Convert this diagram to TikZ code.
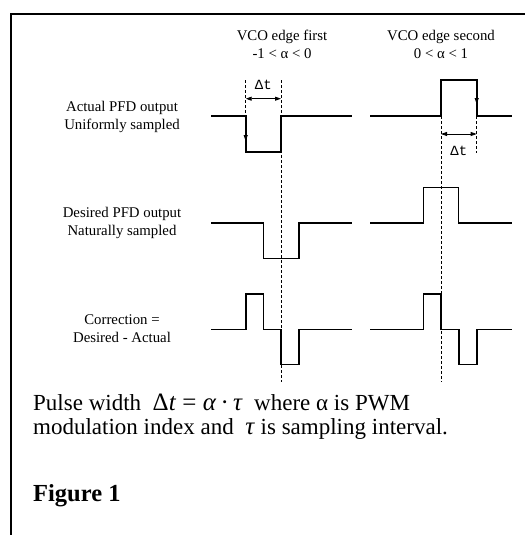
\documentclass[tikz,border=0pt]{standalone}
\usepackage{fontspec}
\setmainfont{Liberation Serif}
\newfontfamily\dtfont{Liberation Mono}
\usetikzlibrary{arrows.meta}

\begin{document}
\begin{tikzpicture}[x=1pt, y=-1pt, >={Triangle[length=6pt, width=4pt]},
    wave/.style={line width=1.6pt},
    guide/.style={line width=0.6pt, dash pattern=on 3pt off 2pt},
    lbl/.style={font=\fontsize{14.8}{18}\selectfont, align=center},
    dtlbl/.style={font=\dtfont\fontsize{14}{16}\selectfont, inner sep=1pt},
    captxt/.style={anchor=base west, inner sep=0pt, font=\fontsize{23}{25}\selectfont}]

  \useasboundingbox (0,0) rectangle (525,535);
  % Frame (open to the right and bottom)
  \draw[line width=1.4pt] (11,535) -- (11,14) -- (525,14);

  % Column headers
  \node[lbl] (hfirst) at (282,44) {VCO edge first\\-1 < α < 0};
  \node[lbl] (hsecond) at (441,44) {VCO edge second\\0 < α < 1};

  % Row labels
  \node[lbl] (lactual) at (122,117) {Actual PFD output\\Uniformly sampled};
  \node[lbl] (ldesired) at (122,222.5) {Desired PFD output\\Naturally sampled};
  \node[lbl] (lcorr) at (122,328.5) {Correction =\\Desired - Actual};

  % Row 1: actual output
  \draw[wave] (211,116) -- (245.7,116) -- (245.7,152) -- (281,152)
    -- (281,116) -- (352,116);
  \draw[wave] (370,116) -- (441,116) -- (441,80) -- (476.7,80)
    -- (476.7,116) -- (512,116);
  \draw[->, line width=1pt] (245.7,118) -- (245.7,141);
  \draw[->, line width=1pt] (476.7,82) -- (476.7,104);

  % Row 2: desired output
  \draw[wave] (211,222.7) -- (263.3,222.7) -- (263.3,258.3) -- (299,258.3)
    -- (299,222.7) -- (352,222.7);
  \draw[wave] (370,222.7) -- (423.3,222.7) -- (423.3,187.3) -- (458.3,187.3)
    -- (458.3,222.7) -- (512,222.7);

  % Row 3: correction
  \draw[wave] (211,329.3) -- (245.7,329.3) -- (245.7,294) -- (263.3,294)
    -- (263.3,329.3) -- (281,329.3) -- (281,364.3) -- (299,364.3)
    -- (299,329.3) -- (352,329.3);
  \draw[wave] (370,329.3) -- (423.3,329.3) -- (423.3,294) -- (441,294)
    -- (441,329.3) -- (459,329.3) -- (459,364.3) -- (476.7,364.3)
    -- (476.7,329.3) -- (512,329.3);

  % Sampling instants
  \coordinate (s1top) at (245.7,80);
  \coordinate (s1bot) at (245.7,116);
  \coordinate (s2top) at (281,80);
  \coordinate (s2bot) at (281,382);
  \coordinate (s3top) at (441,116);
  \coordinate (s3bot) at (441,382);
  \coordinate (s4top) at (476.7,116);
  \coordinate (s4bot) at (476.7,153);
  \foreach \a/\b in {s1top/s1bot, s2top/s2bot, s3top/s3bot, s4top/s4bot}{
    \draw[guide] (\a) -- (\b);
  }

  % Pulse widths
  \coordinate (w1a) at (245.7,98.7);
  \coordinate (w1b) at (281,98.7);
  \coordinate (w2a) at (441,134);
  \coordinate (w2b) at (476.7,134);
  \draw[<->, line width=0.8pt] (w1a) -- (w1b);
  \draw[<->, line width=0.8pt] (w2a) -- (w2b);
  \node[dtlbl] (dt1) at (263.3,85) {Δt};
  \node[dtlbl] (dt2) at (458.8,151) {Δt};

  % Caption
  \node[captxt] (cap1) at (33,410)
    {Pulse width \ {\fontsize{25}{25}\selectfont Δ\textit{t} = \textit{α}\,·\,\textit{τ}}\ \ where α is PWM};
  \node[captxt] (cap2) at (33,434)
    {modulation index and \ {\fontsize{25}{25}\selectfont\textit{τ}} is sampling interval.};
  \node[captxt, font=\fontsize{24.5}{25}\selectfont\bfseries] (fig) at (33,501) {Figure 1};
\end{tikzpicture}
\end{document}
